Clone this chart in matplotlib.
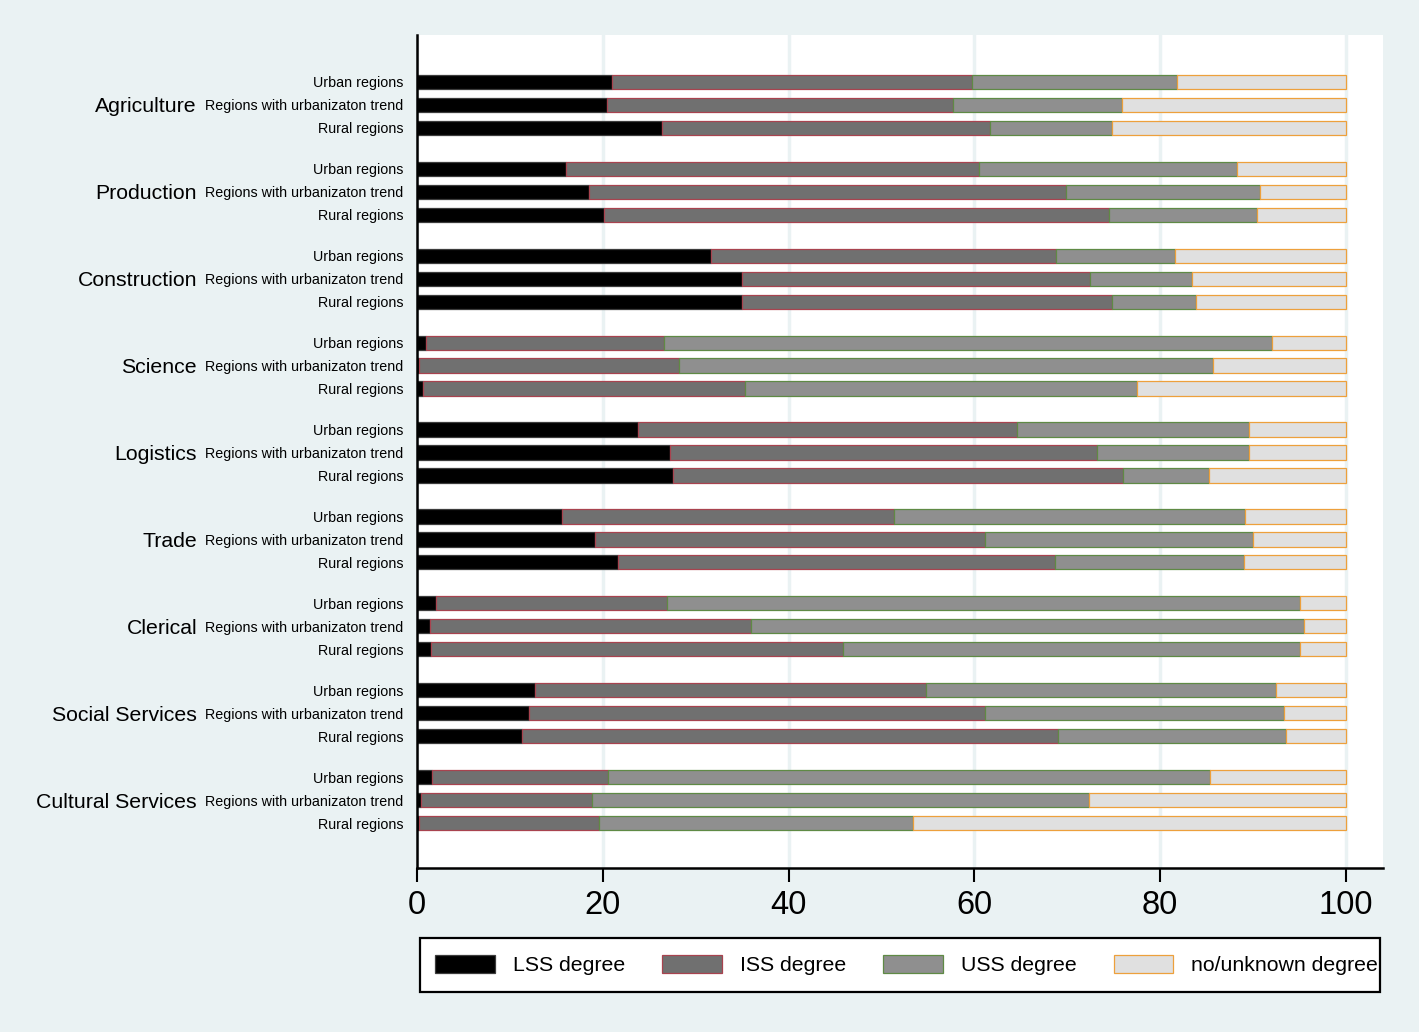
import numpy as np
import matplotlib
matplotlib.use("Agg")
import matplotlib.pyplot as plt
import matplotlib.transforms as mtransforms
from matplotlib.patches import Rectangle

# ---------------- data ----------------
groups = ["Agriculture", "Production", "Construction", "Science", "Logistics",
          "Trade", "Clerical", "Social Services", "Cultural Services"]
regions = ["Urban regions", "Regions with urbanizaton trend", "Rural regions"]
series = ["LSS degree", "ISS degree", "USS degree", "no/unknown degree"]

# shares in % (rows: group x region order above)
lss = [21.0, 20.5, 26.4,
       16.0, 18.5, 20.1,
       31.6, 35.0, 35.0,
       1.0, 0.2, 0.6,
       23.8, 27.2, 27.6,
       15.6, 19.2, 21.6,
       2.0, 1.4, 1.5,
       12.7, 12.1, 11.3,
       1.6, 0.4, 0.2]
iss = [38.7, 37.2, 35.3,
       44.5, 51.4, 54.4,
       37.2, 37.4, 39.8,
       25.6, 28.0, 34.7,
       40.8, 46.0, 48.4,
       35.7, 41.9, 47.1,
       24.9, 34.6, 44.4,
       42.1, 49.0, 57.7,
       19.0, 18.4, 19.4]
uss = [22.1, 18.2, 13.1,
       27.8, 20.8, 15.9,
       12.8, 11.0, 9.1,
       65.4, 57.5, 42.2,
       25.0, 16.4, 9.3,
       37.8, 28.9, 20.3,
       68.1, 59.5, 49.1,
       37.7, 32.2, 24.5,
       64.8, 53.5, 33.8]
unknown = [100 - a - b - c for a, b, c in zip(lss, iss, uss)]

fills = ["#000000", "#707070", "#8f8f8f", "#e0e0e0"]
edges = ["#3c3c3c", "#a8434f", "#5f8a45", "#eda03c"]

# ---------------- layout ----------------
W, H = 1419, 1032
fig = plt.figure(figsize=(W / 100, H / 100), dpi=100)
fig.patch.set_facecolor("#eaf2f3")
plt.rcParams["font.family"] = ["Liberation Sans", "DejaVu Sans"]

ax_l, ax_r, ax_t, ax_b = 417, 1383, 35, 868
ax = fig.add_axes([ax_l / W, 1 - ax_b / H, (ax_r - ax_l) / W, (ax_b - ax_t) / H])
ax.set_facecolor("white")

gap = 87 / 23
ypos = []
for g in range(len(groups)):
    for j in range(len(regions)):
        ypos.append(g * gap + j)
ypos = np.array(ypos)

bar_h = 0.62
left = np.zeros(len(ypos))
handles = []
for vals, fc, ec, name in zip([lss, iss, uss, unknown], fills, edges, series):
    vals = np.array(vals)
    b = ax.barh(ypos, vals, left=left, height=bar_h, color=fc, edgecolor=ec,
                linewidth=0.9, label=name, zorder=3)
    handles.append(b)
    left = left + vals

ax.set_xlim(0, 100 * (ax_r - ax_l) / (1346 - 417))
ax.set_ylim(ypos[-1] + (ax_b - 823) / 23, -(82 - ax_t) / 23)

ax.set_xticks([0, 20, 40, 60, 80, 100])
ax.set_xticklabels(["0", "20", "40", "60", "80", "100"], fontsize=23.5)
ax.tick_params(axis="x", length=10, width=1.5, pad=6, color="black")
for x in [0, 20, 40, 60, 80, 100]:
    ax.axvline(x, color="#eaf2f3", lw=2.5, zorder=1)

ax.set_yticks(ypos)
ax.set_yticklabels(regions * len(groups), fontsize=10.25)
ax.tick_params(axis="y", length=0, pad=10)

for s in ["top", "right"]:
    ax.spines[s].set_visible(False)
ax.spines["left"].set_linewidth(1.8)
ax.spines["bottom"].set_linewidth(1.8)
ax.spines["bottom"].set_zorder(5)
ax.spines["left"].set_zorder(5)

trans = mtransforms.blended_transform_factory(fig.transFigure, ax.transData)
for g, name in enumerate(groups):
    ax.text(197 / W, g * gap + 1, name, transform=trans, ha="right",
            va="center_baseline", fontsize=15.3)

# legend frame (drawn separately, text overflows slightly as in the original)
fig.patches.append(Rectangle((420 / W, 1 - 992 / H), 960 / W, 54 / H,
                             transform=fig.transFigure, facecolor="white",
                             edgecolor="black", linewidth=1.6, zorder=0))

leg = fig.legend(handles=handles, labels=series, ncol=4,
                 loc="center left",
                 bbox_to_anchor=(435 / W, 1 - 965 / H),
                 fontsize=15.3, frameon=False,
                 handlelength=2.82, handleheight=0.9, handletextpad=0.85,
                 columnspacing=1.73, borderpad=0, borderaxespad=0)

fig.savefig("out.png", dpi=100, facecolor=fig.get_facecolor())
